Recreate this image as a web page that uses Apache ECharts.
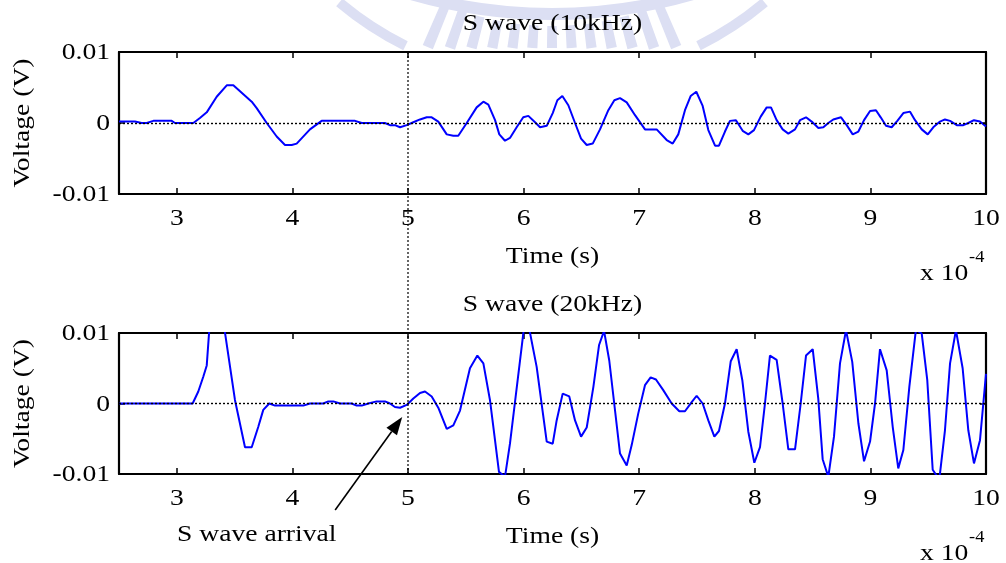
<!DOCTYPE html>
<html>
<head>
<meta charset="utf-8">
<script src="https://cdn.jsdelivr.net/npm/echarts@6/dist/echarts.min.js"></script>
<style>
html,body{margin:0;padding:0;background:#fff;}
#c{width:1006px;height:563px;}
</style>
</head>
<body>
<div id="c"></div>
<script>
// ---- data (time in units of 1e-4 s, voltage in V) ----
const xTicks = [3, 4, 5, 6, 7, 8, 9, 10];
const xTickLabels = ['3', '4', '5', '6', '7', '8', '9', '10'];
const yTicks = [-0.01, 0, 0.01];
const yTickLabels = ['-0.01', '0', '0.01'];
const titles = ['S wave (10kHz)', 'S wave (20kHz)'];

const wave10k = [[2.5,0.0002],[2.638,0.0002],[2.696,0],[2.74,0],[2.797,0.0003],[2.956,0.0003],[2.984,0],[3.143,0],[3.2,0.0007],[3.259,0.0015],[3.345,0.0037],[3.432,0.0053],[3.489,0.0053],[3.648,0.003],[3.691,0.0021],[3.778,0],[3.864,-0.0019],[3.936,-0.0031],[3.994,-0.0031],[4.037,-0.0029],[4.152,-0.0009],[4.253,0.0003],[4.542,0.0003],[4.6,0],[4.8,0],[4.844,-0.0003],[4.887,-0.0003],[4.931,-0.0006],[4.989,-0.0003],[5.046,0.0001],[5.104,0.0005],[5.162,0.0008],[5.205,0.0008],[5.262,0.0002],[5.335,-0.0016],[5.392,-0.0018],[5.435,-0.0018],[5.508,0],[5.594,0.0022],[5.652,0.003],[5.695,0.0026],[5.753,0.0004],[5.79,-0.0016],[5.839,-0.0025],[5.882,-0.0021],[5.94,-0.0006],[5.997,0.0008],[6.041,0.001],[6.099,0.0001],[6.142,-0.0006],[6.2,-0.0004],[6.252,0.0014],[6.292,0.0032],[6.335,0.0038],[6.387,0.0025],[6.445,0],[6.497,-0.0022],[6.546,-0.0031],[6.598,-0.0029],[6.661,-0.0009],[6.733,0.0018],[6.785,0.0032],[6.834,0.0035],[6.892,0.0029],[6.964,0.0011],[7.05,-0.0009],[7.151,-0.0009],[7.238,-0.0024],[7.29,-0.0029],[7.338,-0.0016],[7.396,0.0018],[7.445,0.0038],[7.494,0.0044],[7.549,0.0024],[7.598,-0.001],[7.656,-0.0032],[7.69,-0.0032],[7.742,-0.0012],[7.785,0.0003],[7.837,0.0004],[7.895,-0.0011],[7.944,-0.0016],[7.993,-0.001],[8.051,0.0009],[8.103,0.0022],[8.14,0.0022],[8.189,0.0004],[8.241,-0.0009],[8.29,-0.0015],[8.348,-0.0009],[8.391,0.0004],[8.443,0.0008],[8.492,0.0002],[8.55,-0.0007],[8.593,-0.0006],[8.636,0],[8.679,0.0005],[8.746,0.0008],[8.795,-0.0003],[8.847,-0.0016],[8.896,-0.0012],[8.945,0.0004],[8.997,0.0017],[9.048,0.0018],[9.089,0.0008],[9.135,-0.0004],[9.184,-0.0006],[9.233,0.0003],[9.285,0.0014],[9.343,0.0016],[9.386,0.0004],[9.444,-0.0009],[9.496,-0.0016],[9.544,-0.0006],[9.602,0.0002],[9.645,0.0005],[9.689,0.0003],[9.747,-0.0003],[9.804,-0.0003],[9.847,0],[9.896,0.0004],[9.948,0.0002],[10,-0.0005]];

const wave20k = [[2.5,0],[3.137,0],[3.186,0.0017],[3.229,0.0038],[3.259,0.0054],[3.316,0.0185],[3.374,0.0148],[3.503,0.0005],[3.59,-0.0062],[3.648,-0.0062],[3.705,-0.0033],[3.748,-0.0009],[3.8,0],[3.85,-0.0003],[4.094,-0.0003],[4.152,0],[4.267,0],[4.311,0.0003],[4.354,0.0003],[4.412,0],[4.513,0],[4.556,-0.0003],[4.6,-0.0003],[4.657,0],[4.729,0.0003],[4.801,0.0003],[4.844,0],[4.887,-0.0005],[4.931,-0.0006],[4.989,-0.0002],[5.046,0.0007],[5.104,0.0015],[5.147,0.0017],[5.205,0.001],[5.262,-0.0006],[5.335,-0.0036],[5.392,-0.0031],[5.45,-0.001],[5.536,0.005],[5.6,0.0068],[5.652,0.0057],[5.709,0.0005],[5.787,-0.0097],[5.839,-0.0104],[5.882,-0.0057],[6.02,0.013],[6.113,0.0052],[6.2,-0.0054],[6.252,-0.0057],[6.286,-0.0024],[6.338,0.0014],[6.395,0.001],[6.445,-0.0024],[6.497,-0.0047],[6.546,-0.0034],[6.604,0.0024],[6.653,0.0083],[6.696,0.0103],[6.741,0.0061],[6.834,-0.0071],[6.892,-0.0088],[6.935,-0.0059],[6.992,-0.0014],[7.05,0.0026],[7.099,0.0037],[7.145,0.0034],[7.208,0.0019],[7.281,0],[7.347,-0.0011],[7.396,-0.0011],[7.454,0.0002],[7.497,0.0011],[7.549,0],[7.598,-0.0024],[7.65,-0.0047],[7.69,-0.0039],[7.742,0],[7.792,0.006],[7.843,0.0077],[7.892,0.0033],[7.944,-0.004],[7.996,-0.0084],[8.045,-0.0062],[8.088,0],[8.131,0.0068],[8.189,0.0062],[8.241,0],[8.29,-0.0065],[8.348,-0.0065],[8.397,0],[8.443,0.0068],[8.501,0.0077],[8.549,0.0007],[8.587,-0.0079],[8.636,-0.0104],[8.685,-0.0047],[8.737,0.0057],[8.789,0.0104],[8.843,0.0059],[8.896,-0.0028],[8.945,-0.0082],[8.997,-0.0054],[9.04,0],[9.083,0.0077],[9.141,0.0047],[9.193,-0.0033],[9.241,-0.0092],[9.285,-0.0066],[9.337,0.0024],[9.394,0.0105],[9.444,0.0099],[9.492,0.0033],[9.539,-0.0094],[9.596,-0.0108],[9.645,-0.0038],[9.689,0.0057],[9.74,0.0104],[9.798,0.005],[9.847,-0.0038],[9.896,-0.0085],[9.948,-0.0052],[10,0.0042]];

const arrivalMarker = 5;              // vertical dotted marker (x 1e-4 s)
const arrowTip = [4.95, -0.0019];     // arrow tip in bottom plot data units
const arrowTail = [4.37, -0.0151];
const arrowText = 'S wave arrival';

// ---- chart ----
const FS = 24;
const SX = 1.15;
function fontStr(px) { return 'normal ' + px + 'px "Liberation Serif"'; }
const chart = echarts.init(document.getElementById('c'), null, {renderer: 'canvas'});

function xAxisDef(gi, pos) {
  return {
    gridIndex: gi, type: 'value', min: 2.5, max: 10, position: pos,
    axisLine: {show: true, onZero: false, lineStyle: {color: '#000', width: 2.2}},
    axisTick: {show: true, inside: true, length: 6, customValues: xTicks, lineStyle: {color: '#000', width: 1.5}},
    axisLabel: {show: false}, splitLine: {show: false}
  };
}
function yAxisDef(gi, pos) {
  return {
    gridIndex: gi, type: 'value', min: -0.01, max: 0.01, interval: 0.01, position: pos,
    axisLine: {show: true, onZero: false, lineStyle: {color: '#000', width: 2.2}},
    axisTick: {show: true, inside: true, length: 6, lineStyle: {color: '#000', width: 1.5}},
    axisLabel: {show: false}, splitLine: {show: false}
  };
}
function lineSeries(i, data) {
  return {
    type: 'line', xAxisIndex: i * 2, yAxisIndex: i * 2, data: data,
    symbol: 'none', showSymbol: false, clip: true,
    lineStyle: {color: '#0000ff', width: 2}, z: 3,
    markLine: {
      silent: true, symbol: ['none', 'none'], label: {show: false}, animation: false,
      lineStyle: {color: '#000', type: [2, 2], width: 1.4},
      data: [{yAxis: 0}]
    }
  };
}

chart.setOption({
  animation: false,
  backgroundColor: '#fff',
  grid: [
    {left: 119, right: 20, top: 52, height: 142},
    {left: 119, right: 20, top: 333, height: 141}
  ],
  xAxis: [xAxisDef(0, 'bottom'), xAxisDef(0, 'top'), xAxisDef(1, 'bottom'), xAxisDef(1, 'top')],
  yAxis: [yAxisDef(0, 'left'), yAxisDef(0, 'right'), yAxisDef(1, 'left'), yAxisDef(1, 'right')],
  series: [lineSeries(0, wave10k), lineSeries(1, wave20k)]
});

function P(si, v) { return chart.convertToPixel({seriesIndex: si}, v); }
function T(text, x, y, o) {
  o = o || {};
  const fs = o.fs || FS;
  return {
    type: 'text', x: x, y: y, scaleX: o.sx || SX, scaleY: 1, rotation: o.rot || 0, z: 20, silent: true,
    style: {
      text: text, font: fontStr(fs), fontFamily: 'Liberation Serif', fontSize: fs, fill: '#000',
      align: o.align || 'center', verticalAlign: o.va || 'middle'
    }
  };
}

const g = [];
// watermark (faint logo above the first plot)
const WM = '#dcdff3';
const wcx = 552, wcy = -250;
for (let k = -6; k <= 6; k++) {
  const th = k * 0.066;
  const a = Math.PI / 2 - th;
  const rOut = Math.min(322, (48 - wcy) / Math.cos(th));
  g.push({type: 'sector', z: 0, silent: true,
    shape: {cx: wcx, cy: wcy, r0: 276, r: rOut, startAngle: a - 0.017, endAngle: a + 0.017},
    style: {fill: WM}});
}
[[0.46, 0.70], [-0.70, -0.46]].forEach(function (rg) {
  g.push({type: 'sector', z: 0, silent: true,
    shape: {cx: wcx, cy: wcy, r0: 325, r: 335, startAngle: Math.PI / 2 - rg[1], endAngle: Math.PI / 2 - rg[0]},
    style: {fill: WM}});
});
g.push({type: 'sector', z: 0, silent: true,
  shape: {cx: wcx, cy: -494, r0: 502, r: 514, startAngle: Math.PI / 2 - 0.28, endAngle: Math.PI / 2 + 0.28},
  style: {fill: WM}});

for (let i = 0; i < 2; i++) {
  const tl = P(i, [2.5, 0.01]);
  const br = P(i, [10, -0.01]);
  const cx = (tl[0] + br[0]) / 2, cy = (tl[1] + br[1]) / 2;
  g.push(T(titles[i], cx, tl[1] - 28));
  xTicks.forEach(function (t, j) {
    const p = P(i, [t, -0.01]);
    g.push(T(xTickLabels[j], p[0], p[1] + 25));
  });
  yTicks.forEach(function (v, j) {
    const p = P(i, [2.5, v]);
    g.push(T(yTickLabels[j], p[0] - 9, p[1] + 1, {align: 'right'}));
  });
  g.push(T('Voltage (V)', 23, cy, {rot: Math.PI / 2}));
  g.push(T('Time (s)', cx, br[1] + 63));
  g.push(T('x 10', br[0] - 66, br[1] + 80, {align: 'left'}));
  g.push(T('-4', br[0] - 17, br[1] + 64, {align: 'left', fs: 16}));
}

// vertical dotted marker spanning both plots
const vTop = P(0, [arrivalMarker, 0.01]);
const vBot = P(1, [arrivalMarker, -0.01]);
g.push({type: 'line', z: 15, silent: true,
  shape: {x1: vTop[0], y1: vTop[1], x2: vBot[0], y2: vBot[1]},
  style: {stroke: '#000', lineWidth: 1.2, lineDash: [2, 2]}});

// arrow
const tip = P(1, arrowTip), tail = P(1, arrowTail);
const dx = tip[0] - tail[0], dy = tip[1] - tail[1];
const L = Math.sqrt(dx * dx + dy * dy);
const ux = dx / L, uy = dy / L, nx = -uy, ny = ux;
const hl = 18, hw = 6.5;
const bx = tip[0] - hl * ux, by = tip[1] - hl * uy;
g.push({type: 'line', z: 15, silent: true,
  shape: {x1: tail[0], y1: tail[1], x2: bx, y2: by},
  style: {stroke: '#000', lineWidth: 1.6}});
g.push({type: 'polygon', z: 15, silent: true,
  shape: {points: [[tip[0], tip[1]], [bx + hw * nx, by + hw * ny], [bx - hw * nx, by - hw * ny]]},
  style: {fill: '#000'}});
const bb = P(1, [2.5, -0.01]);
g.push(T(arrowText, 177, bb[1] + 61, {align: 'left'}));

chart.setOption({graphic: g});
</script>
</body>
</html>
